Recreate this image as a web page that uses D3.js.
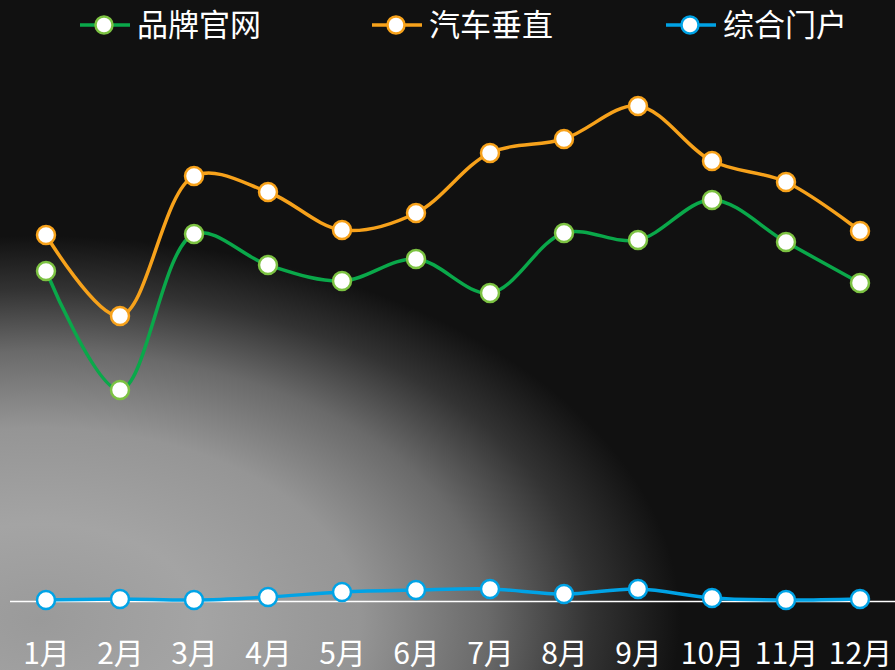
<!DOCTYPE html>
<html><head><meta charset="utf-8">
<script src="https://cdn.jsdelivr.net/npm/d3@7/dist/d3.min.js"></script>
<style>body{margin:0;background:#111;}svg{display:block;}</style>
</head><body>
<svg id="c" width="895" height="670"></svg>
<script>
const months = ["1月","2月","3月","4月","5月","6月","7月","8月","9月","10月","11月","12月"];
const seriesNames = ["品牌官网","汽车垂直","综合门户"];
const brandSite = [33.0,21.1,36.7,33.6,32.0,34.2,30.8,36.8,36.1,40.1,35.9,31.8];
const autoVertical = [36.6,28.5,42.5,40.9,37.1,38.8,44.8,46.2,49.5,44.0,41.9,37.0];
const portal = [0.1,0.2,0.1,0.4,0.9,1.1,1.2,0.7,1.2,0.3,0.1,0.2];

const W = 895, H = 670;
const svg = d3.select("#c");
const font = "'Noto Sans CJK SC','Microsoft YaHei',sans-serif";

// background
const defs = svg.append("defs");
const cx = 40, cy = 620;
const rg = defs.append("radialGradient").attr("id","bg")
  .attr("gradientUnits","userSpaceOnUse")
  .attr("cx",cx).attr("cy",cy).attr("r",640)
  .attr("gradientTransform",`translate(${cx},${cy}) scale(1,0.6) translate(${-cx},${-cy})`);
[[0,"#9a9a9a"],[0.25,"#a4a4a4"],[0.5,"#959595"],[0.7,"#6a6a6a"],[0.86,"#333333"],[1,"#111111"]]
  .forEach(([o,c])=>rg.append("stop").attr("offset",o).attr("stop-color",c));
svg.append("rect").attr("width",W).attr("height",H).attr("fill","#111");
svg.append("rect").attr("width",W).attr("height",H).attr("fill","url(#bg)");

const x = d3.scalePoint().domain(months).range([46,860]);
const y = d3.scaleLinear().domain([0,50]).range([601,101]);

// axis
const xAxis = svg.append("g").attr("transform","translate(0,601)")
  .call(d3.axisBottom(x).tickSize(0).tickPadding(42));
xAxis.select(".domain").remove();
xAxis.selectAll("text").attr("fill","#fff").attr("font-size",30).attr("font-family",font);
svg.append("line").attr("x1",10).attr("x2",895).attr("y1",601.5).attr("y2",601.5)
  .attr("stroke","#fff").attr("stroke-width",1.5);

const series = [
  {name:seriesNames[0], values:brandSite, line:"#0aa84a", mark:"#7cc242"},
  {name:seriesNames[1], values:autoVertical, line:"#f7a21b", mark:"#f7a21b"},
  {name:seriesNames[2], values:portal, line:"#00a3e6", mark:"#00a3e6"}
];

const lineGen = d3.line().x((d,i)=>x(months[i])).y(d=>y(d)).curve(d3.curveCatmullRom.alpha(0.5));

series.forEach(s=>{
  svg.append("path").datum(s.values).attr("d",lineGen)
    .attr("fill","none").attr("stroke",s.line).attr("stroke-width",3.5);
});
series.forEach(s=>{
  svg.append("g").selectAll("circle").data(s.values).join("circle")
    .attr("cx",(d,i)=>x(months[i])).attr("cy",d=>y(d)).attr("r",9)
    .attr("fill","#fff").attr("stroke",s.mark).attr("stroke-width",2.5);
});

// legend
const legendX = [80,372,666];
series.forEach((s,i)=>{
  const g = svg.append("g").attr("transform",`translate(${legendX[i]},25)`);
  g.append("line").attr("x1",0).attr("x2",50).attr("stroke",s.line).attr("stroke-width",3.5);
  g.append("circle").attr("cx",24).attr("r",8.5).attr("fill","#fff").attr("stroke",s.mark).attr("stroke-width",2.5);
  g.append("text").attr("x",57).attr("y",11).attr("fill","#fff").attr("font-size",31)
    .attr("font-family",font).text(s.name);
});
</script>
</body></html>
